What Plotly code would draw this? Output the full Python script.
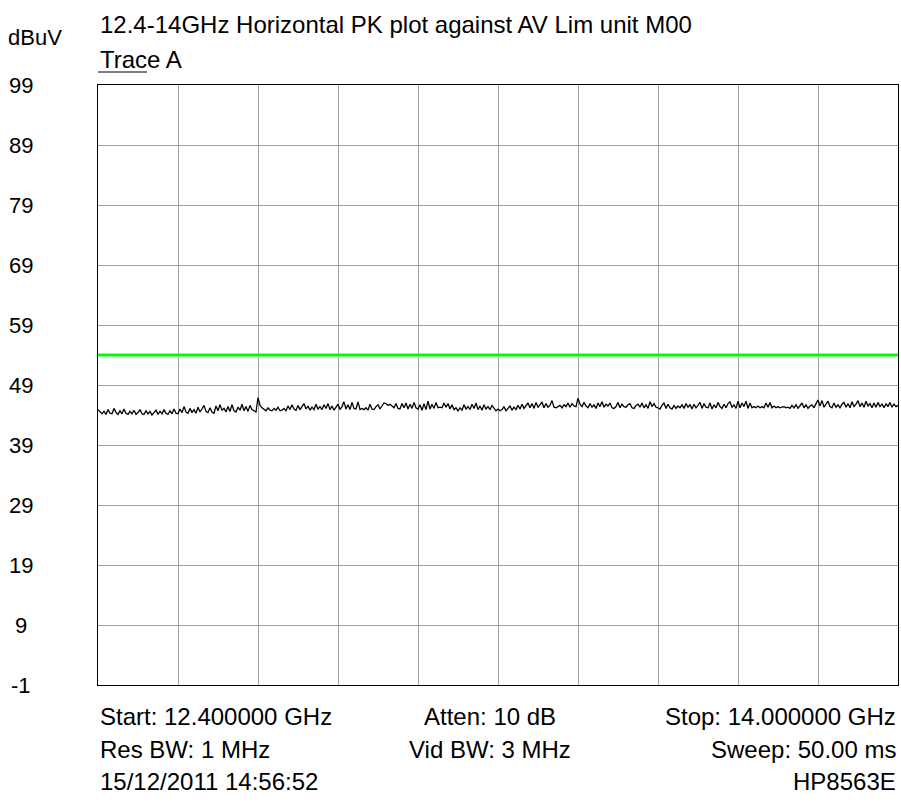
import numpy as np
import plotly.graph_objects as go

# ---- data ----
start_ghz = 12.4
stop_ghz = 14.0
limit_dbuv = 54.0
y_tick_vals = [99, 89, 79, 69, 59, 49, 39, 29, 19, 9, -1]
y_tick_labels = ["99", "89", "79", "69", "59", "49", "39", "29", "19", "9", "-1"]

trace_a = [
    # div 1
    44.9, 44.5, 44.2, 44.6, 44.1, 44.9, 44.3, 44.2, 45.1, 44.4, 44.1, 44.7, 44.2, 45.0, 44.3, 44.1, 44.6, 44.2, 44.8, 44.1,
    44.4, 44.9, 44.2, 44.1, 44.7, 44.2, 44.6, 44.0, 44.4, 44.8, 44.1, 44.6, 44.2, 44.9, 44.3, 44.1, 44.7, 44.2, 45.0, 44.3,
    # div 2
    44.2, 45.0, 44.4, 45.4, 44.5, 44.3, 45.1, 44.4, 44.9, 44.3, 45.3, 44.5, 45.0, 45.6, 44.6, 44.4, 45.2, 44.5, 44.3, 45.5,
    44.7, 45.7, 44.8, 45.1, 44.5, 45.4, 44.6, 45.7, 44.7, 44.5, 45.3, 44.8, 45.8, 44.7, 45.4, 44.6, 45.6, 44.9, 44.7, 44.5,
    # div 3
    46.9, 45.6, 45.2, 44.9, 44.7, 45.2, 44.8, 44.7, 45.1, 44.8, 45.3, 44.7, 44.8, 45.1, 44.7, 45.5, 44.9, 45.7, 45.0, 44.8,
    45.6, 44.9, 45.4, 45.9, 45.0, 45.5, 44.8, 45.3, 44.9, 45.8, 45.0, 45.4, 44.9, 45.7, 45.1, 45.9, 44.9, 45.5, 44.8, 45.4,
    # div 4
    45.8, 44.9, 45.4, 46.2, 45.0, 45.7, 44.9, 46.1, 45.1, 45.0, 46.2, 44.9, 45.1, 44.9, 45.2, 44.8, 45.8, 45.0, 44.9, 45.4,
    45.7, 45.0, 45.5, 46.0, 45.9, 45.6, 45.8, 45.5, 45.2, 45.9, 45.1, 45.0, 45.9, 45.2, 46.0, 45.0, 45.8, 45.1, 46.1, 45.2,
    # div 5
    45.0, 45.7, 44.8, 45.9, 44.9, 46.3, 45.0, 45.8, 45.1, 46.1, 45.2, 45.3, 45.2, 46.0, 45.3, 45.9, 45.0, 45.7, 44.9, 45.2,
    44.7, 45.2, 44.8, 45.7, 45.0, 45.4, 44.9, 45.8, 45.1, 46.0, 44.9, 45.5, 44.8, 45.7, 45.0, 45.4, 44.9, 45.6, 45.1, 44.7,
    # div 6
    45.0, 44.7, 44.9, 45.4, 44.7, 45.2, 45.5, 44.8, 45.3, 44.9, 45.6, 45.0, 45.8, 45.1, 45.5, 46.0, 45.2, 45.9, 45.1, 46.1,
    45.3, 45.7, 46.1, 45.2, 45.9, 45.3, 45.6, 46.4, 45.3, 45.2, 45.4, 45.6, 45.2, 45.7, 45.4, 46.0, 45.3, 45.9, 45.5, 45.4,
    # div 7
    46.8, 45.8, 45.4, 46.1, 45.5, 45.2, 45.9, 45.3, 45.7, 45.1, 46.0, 45.4, 46.2, 45.3, 45.8, 45.5, 46.0, 45.2, 45.1, 45.4,
    46.1, 45.2, 45.8, 45.4, 45.3, 45.7, 45.9, 45.2, 45.1, 45.6, 45.8, 45.3, 46.0, 45.2, 45.7, 45.1, 46.2, 45.4, 45.9, 45.3,
    # div 8
    45.2, 45.0, 45.6, 46.0, 45.1, 45.8, 45.2, 45.0, 45.6, 45.1, 45.5, 45.2, 45.7, 45.1, 45.9, 45.3, 45.7, 45.0, 45.8, 45.2,
    45.6, 46.1, 45.1, 45.9, 45.3, 45.2, 46.0, 45.0, 45.7, 45.2, 46.1, 45.4, 45.1, 45.8, 45.2, 45.9, 46.2, 45.3, 45.7, 45.1,
    # div 9
    46.3, 45.2, 46.0, 45.4, 46.3, 45.1, 46.0, 45.2, 45.4, 45.2, 45.5, 45.2, 45.4, 45.2, 46.0, 45.3, 46.1, 45.2, 45.5, 45.2,
    45.4, 45.2, 45.3, 45.4, 45.2, 45.3, 45.1, 45.6, 45.2, 45.7, 45.1, 45.5, 46.0, 45.2, 45.7, 45.1, 45.5, 45.7, 45.2, 45.9,
    # div 10
    46.5, 45.5, 46.4, 45.3, 45.8, 46.3, 45.4, 45.2, 46.0, 45.3, 45.7, 45.2, 45.8, 46.1, 45.3, 45.9, 45.2, 46.2, 45.4, 45.8,
    46.4, 45.4, 46.0, 45.3, 46.3, 45.5, 45.9, 45.2, 46.0, 45.3, 46.1, 45.4, 45.8, 45.2, 45.9, 45.4, 46.1, 45.3, 45.8, 45.4,
    45.6,
]

title_text = "12.4-14GHz Horizontal PK plot against AV Lim unit M00"
legend_text = "Trace A"
unit_text = "dBuV"
footer_left = ["Start: 12.400000 GHz", "Res BW: 1 MHz", "15/12/2011 14:56:52"]
footer_mid = ["Atten: 10 dB", "Vid BW: 3 MHz"]
footer_right = ["Stop: 14.000000 GHz", "Sweep: 50.00 ms", "HP8563E"]

freq = np.linspace(start_ghz, stop_ghz, len(trace_a))
x_grid = list(np.linspace(start_ghz, stop_ghz, 11))

FONT = "Liberation Sans, Arial, sans-serif"
FS = 24

fig = go.Figure()
fig.add_trace(go.Scatter(x=[start_ghz, stop_ghz], y=[limit_dbuv, limit_dbuv], mode="lines",
                         line=dict(color="#00ff00", width=3), hoverinfo="skip"))
fig.add_trace(go.Scatter(x=freq, y=trace_a, mode="lines",
                         line=dict(color="black", width=1.3)))

W, H = 901, 805
L, R, T, B = 98, 3, 85, 120
pw, ph = W - L - R, H - T - B

def px(xp):
    return (xp - L) / pw

def py(yp):
    return (H - B - yp) / ph

ann = []
ann.append(dict(text=title_text, x=0, y=py(24), xref="paper", yref="paper",
                xanchor="left", yanchor="middle", showarrow=False))
ann.append(dict(text=legend_text, x=0, y=py(59), xref="paper", yref="paper",
                xanchor="left", yanchor="middle", showarrow=False))
ann.append(dict(text=unit_text, x=px(35), y=py(38), xref="paper", yref="paper",
                xanchor="center", yanchor="middle", showarrow=False, font=dict(size=22)))
for v, lab in zip(y_tick_vals, y_tick_labels):
    ann.append(dict(text=lab, x=px(21), y=v, xref="paper", yref="y",
                    xanchor="center", yanchor="middle", showarrow=False, font=dict(size=22)))
rows = [717, 749, 781]
for i, t in enumerate(footer_left):
    ann.append(dict(text=t, x=0, y=py(rows[i]), xref="paper", yref="paper",
                    xanchor="left", yanchor="middle", showarrow=False))
for i, t in enumerate(footer_mid):
    ann.append(dict(text=t, x=px(490), y=py(rows[i]), xref="paper", yref="paper",
                    xanchor="center", yanchor="middle", showarrow=False))
for i, t in enumerate(footer_right):
    ann.append(dict(text=t, x=1, y=py(rows[i]), xref="paper", yref="paper",
                    xanchor="right", yanchor="middle", showarrow=False))

fig.update_layout(
    width=W, height=H,
    margin=dict(l=L, r=R, t=T, b=B),
    paper_bgcolor="white", plot_bgcolor="white",
    showlegend=False,
    font=dict(family=FONT, size=FS, color="black"),
    annotations=ann,
    shapes=[dict(type="line", xref="paper", yref="paper", x0=0, x1=px(147),
                 y0=py(72), y1=py(72), line=dict(color="black", width=1))],
    xaxis=dict(range=[start_ghz, stop_ghz], tickvals=x_grid, showticklabels=False,
               showgrid=True, gridcolor="#a0a0a0", gridwidth=1, zeroline=False,
               showline=True, linecolor="black", linewidth=1, mirror=True, ticks=""),
    yaxis=dict(range=[-1, 99], tickvals=y_tick_vals, showticklabels=False,
               showgrid=True, gridcolor="#a0a0a0", gridwidth=1, zeroline=False,
               showline=True, linecolor="black", linewidth=1, mirror=True, ticks=""),
)

fig.write_html("out.html")
